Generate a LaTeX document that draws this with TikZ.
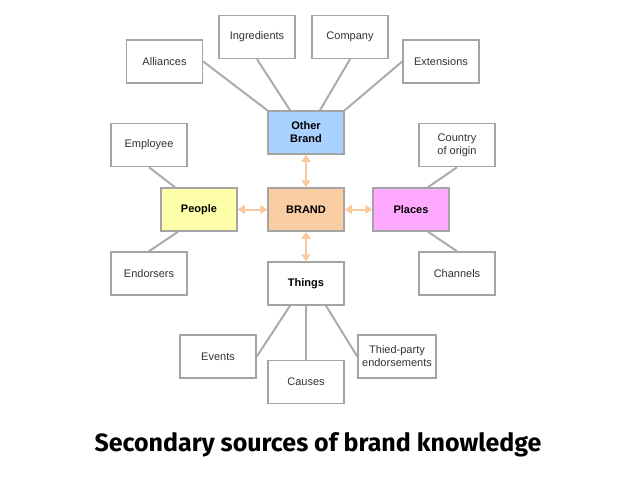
\documentclass[tikz,border=0pt]{standalone}
\usepackage{fontspec}
\setmainfont{Liberation Sans}
\newfontfamily\titlefont{Fira Sans}
\usetikzlibrary{arrows.meta}

\definecolor{boxgray}{HTML}{A4A4A4}
\definecolor{linkgray}{HTML}{ABABAB}
\definecolor{arrowpeach}{HTML}{F9C99E}
\definecolor{otherblue}{HTML}{A9D1FF}
\definecolor{peopleyellow}{HTML}{FFFFA9}
\definecolor{brandpeach}{HTML}{FBCDA3}
\definecolor{placespink}{HTML}{FFA9FF}

\tikzset{
  srcbox/.style={draw=boxgray,line width=1.5pt,fill=white,minimum width=76pt,minimum height=43pt,
    inner sep=0pt,align=center,font=\fontsize{11}{13}\selectfont,text=black!80},
  keybox/.style={srcbox,font=\fontsize{11}{13}\selectfont\bfseries,text=black},
  link/.style={draw=linkgray,line width=2pt},
  tie/.style={draw=arrowpeach,line width=2pt,{Triangle[width=9pt,length=7pt]}-{Triangle[width=9pt,length=7pt]}}
}

\begin{document}
\begin{tikzpicture}[x=1pt,y=-1pt]
\useasboundingbox (0,0) rectangle (638,479);

%---------------- Centre ----------------
\node[keybox,fill=brandpeach] (brand) at (306,209.5) {BRAND};
\node[keybox,fill=otherblue] (other) at (306,132.5) {Other\\Brand};
\node[keybox,fill=peopleyellow] (people) at (199,209.5) {People};
\node[keybox,fill=placespink] (places) at (411,209.5) {Places};
\node[keybox] (things) at (306,283.5) {Things};

%---------------- Outer boxes ----------------
\node[srcbox] (alliances) at (164.5,61.5) {Alliances};
\node[srcbox] (ingredients) at (257,37) {Ingredients};
\node[srcbox] (company) at (350,37) {Company};
\node[srcbox] (extensions) at (441,61.5) {Extensions};
\node[srcbox] (employee) at (149,145) {Employee};
\node[srcbox] (endorsers) at (149,273.5) {Endorsers};
\node[srcbox] (country) at (457,145) {Country\\of origin};
\node[srcbox] (channels) at (457,273.5) {Channels};
\node[srcbox] (events) at (218,356.5) {Events};
\node[srcbox] (causes) at (306,382) {Causes};
\node[srcbox,minimum width=78pt] (thied) at (397,356.5) {Thied-party\\endorsements};

% Grey links
\draw[link] (alliances.east) -- (other.north west);
\draw[link] (ingredients.south) -- ([xshift=-16pt]other.north);
\draw[link] (company.south) -- ([xshift=14pt]other.north);
\draw[link] (extensions.west) -- (other.north east);
\draw[link] (employee.south) -- ([xshift=-24pt]people.north);
\draw[link] ([xshift=-21pt]people.south) -- (endorsers.north);
\draw[link] (country.south) -- ([xshift=17pt]places.north);
\draw[link] ([xshift=17pt]places.south) -- (channels.north);
\draw[link] ([xshift=-16pt]things.south) -- (events.east);
\draw[link] (things.south) -- (causes.north);
\draw[link] ([xshift=20pt]things.south) -- (thied.west);

% Peach arrows
\draw[tie] (brand.north) -- (other.south);
\draw[tie] (brand.west) -- (people.east);
\draw[tie] (brand.east) -- (places.west);
\draw[tie] (brand.south) -- (things.north);

% Title
\node[font=\titlefont\bfseries\fontsize{25}{30}\selectfont] (title) at (318,445) {Secondary sources of brand knowledge};
\end{tikzpicture}
\end{document}
